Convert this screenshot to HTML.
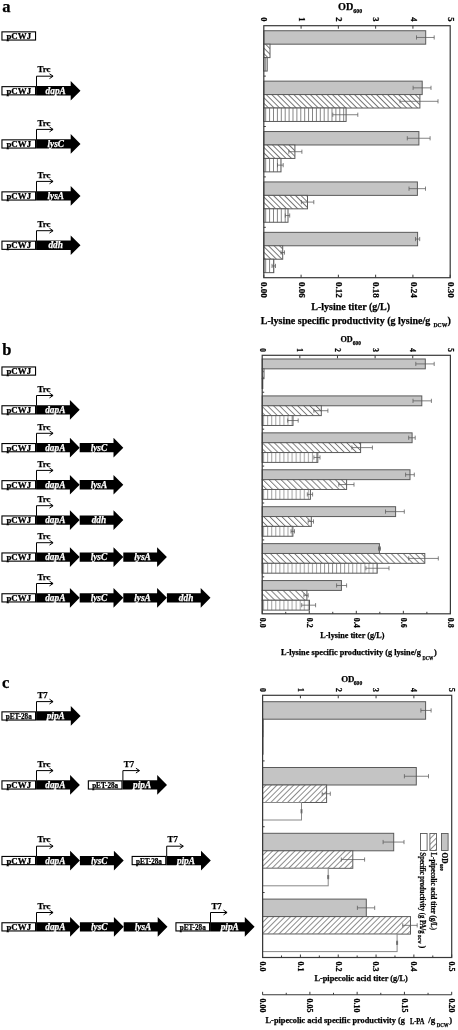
<!DOCTYPE html><html><head><meta charset="utf-8"><style>html,body{margin:0;padding:0;background:#fff;}body{width:458px;height:1030px;position:relative;overflow:hidden;font-family:"Liberation Serif",serif;}</style></head><body><svg width="458" height="1030" viewBox="0 0 458 1030" font-family='"Liberation Serif", serif' style="position:absolute;left:0;top:0;display:block;filter:grayscale(1) blur(0.45px)">
<defs>
<pattern id="hb" patternUnits="userSpaceOnUse" width="3.9" height="4" patternTransform="rotate(-45)"><rect width="3.9" height="4" fill="#fff"/><line x1="0.5" y1="0" x2="0.5" y2="4" stroke="#555" stroke-width="0.8"/></pattern>
<pattern id="hb2" patternUnits="userSpaceOnUse" width="4.27" height="4" patternTransform="rotate(-45)"><rect width="4.27" height="4" fill="#fff"/><line x1="0.5" y1="0" x2="0.5" y2="4" stroke="#555" stroke-width="0.8"/></pattern>
<pattern id="hf" patternUnits="userSpaceOnUse" width="3.95" height="4" patternTransform="rotate(45)"><rect width="3.95" height="4" fill="#fff"/><line x1="0.5" y1="0" x2="0.5" y2="4" stroke="#666" stroke-width="0.75"/></pattern>
<pattern id="vl" patternUnits="userSpaceOnUse" width="3.9" height="10"><rect width="3.9" height="10" fill="#fff"/><line x1="0.5" y1="0" x2="0.5" y2="10" stroke="#666" stroke-width="0.8"/></pattern>
<pattern id="vl2" patternUnits="userSpaceOnUse" width="4.05" height="10"><rect width="4.05" height="10" fill="#fff"/><line x1="0.5" y1="0" x2="0.5" y2="10" stroke="#777" stroke-width="0.8"/></pattern>
</defs>
<rect width="458" height="1030" fill="#fff"/>
<text x="2.30" y="12.20" font-size="16.5" font-weight="bold" font-style="normal" fill="#000" stroke="#000" stroke-width="0.25" text-anchor="start">a</text>
<text x="2.30" y="354.60" font-size="16.5" font-weight="bold" font-style="normal" fill="#000" stroke="#000" stroke-width="0.25" text-anchor="start">b</text>
<text x="2.00" y="687.50" font-size="16.5" font-weight="bold" font-style="normal" fill="#000" stroke="#000" stroke-width="0.25" text-anchor="start">c</text>
<rect x="1.95" y="31.85" width="33.60" height="8.20" fill="#fff" stroke="#000" stroke-width="1.1"/>
<text x="18.75" y="39.00" font-size="8.9" font-weight="bold" font-style="normal" fill="#000" stroke="#000" stroke-width="0.25" text-anchor="middle">pCWJ</text>
<rect x="1.95" y="86.65" width="33.60" height="8.20" fill="#fff" stroke="#000" stroke-width="1.1"/>
<text x="18.75" y="93.80" font-size="8.9" font-weight="bold" font-style="normal" fill="#000" stroke="#000" stroke-width="0.25" text-anchor="middle">pCWJ</text>
<polygon points="36.10,86.1 70.70,86.1 70.70,80.90 80.50,90.75 70.70,100.60 70.70,95.40 36.10,95.40" fill="#000"/>
<text x="55.70" y="93.70" font-size="9.3" font-weight="bold" font-style="italic" fill="#fff" stroke="#fff" stroke-width="0.25" text-anchor="middle">dapA</text>
<path d="M36.50 86.60 V76.20 H53.00" fill="none" stroke="#000" stroke-width="1"/>
<path d="M49.50 73.80 L53.10 76.20 L49.50 78.60" fill="none" stroke="#000" stroke-width="1"/>
<text x="37.40" y="72.40" font-size="8.9" font-weight="bold" font-style="normal" fill="#000" stroke="#000" stroke-width="0.25" text-anchor="start">Trc</text>
<rect x="1.95" y="139.85" width="33.60" height="8.20" fill="#fff" stroke="#000" stroke-width="1.1"/>
<text x="18.75" y="147.00" font-size="8.9" font-weight="bold" font-style="normal" fill="#000" stroke="#000" stroke-width="0.25" text-anchor="middle">pCWJ</text>
<polygon points="36.10,139.3 70.70,139.3 70.70,134.10 80.50,143.95 70.70,153.80 70.70,148.60 36.10,148.60" fill="#000"/>
<text x="55.70" y="146.90" font-size="9.3" font-weight="bold" font-style="italic" fill="#fff" stroke="#fff" stroke-width="0.25" text-anchor="middle">lysC</text>
<path d="M36.50 139.80 V129.40 H53.00" fill="none" stroke="#000" stroke-width="1"/>
<path d="M49.50 127.00 L53.10 129.40 L49.50 131.80" fill="none" stroke="#000" stroke-width="1"/>
<text x="37.40" y="125.60" font-size="8.9" font-weight="bold" font-style="normal" fill="#000" stroke="#000" stroke-width="0.25" text-anchor="start">Trc</text>
<rect x="1.95" y="191.85" width="33.60" height="8.20" fill="#fff" stroke="#000" stroke-width="1.1"/>
<text x="18.75" y="199.00" font-size="8.9" font-weight="bold" font-style="normal" fill="#000" stroke="#000" stroke-width="0.25" text-anchor="middle">pCWJ</text>
<polygon points="36.10,191.3 70.70,191.3 70.70,186.10 80.50,195.95 70.70,205.80 70.70,200.60 36.10,200.60" fill="#000"/>
<text x="55.70" y="198.90" font-size="9.3" font-weight="bold" font-style="italic" fill="#fff" stroke="#fff" stroke-width="0.25" text-anchor="middle">lysA</text>
<path d="M36.50 191.80 V181.40 H53.00" fill="none" stroke="#000" stroke-width="1"/>
<path d="M49.50 179.00 L53.10 181.40 L49.50 183.80" fill="none" stroke="#000" stroke-width="1"/>
<text x="37.40" y="177.60" font-size="8.9" font-weight="bold" font-style="normal" fill="#000" stroke="#000" stroke-width="0.25" text-anchor="start">Trc</text>
<rect x="1.95" y="241.15" width="33.60" height="8.20" fill="#fff" stroke="#000" stroke-width="1.1"/>
<text x="18.75" y="248.30" font-size="8.9" font-weight="bold" font-style="normal" fill="#000" stroke="#000" stroke-width="0.25" text-anchor="middle">pCWJ</text>
<polygon points="36.10,240.6 70.70,240.6 70.70,235.40 80.50,245.25 70.70,255.10 70.70,249.90 36.10,249.90" fill="#000"/>
<text x="55.70" y="248.20" font-size="9.3" font-weight="bold" font-style="italic" fill="#fff" stroke="#fff" stroke-width="0.25" text-anchor="middle">ddh</text>
<path d="M36.50 241.10 V230.70 H53.00" fill="none" stroke="#000" stroke-width="1"/>
<path d="M49.50 228.30 L53.10 230.70 L49.50 233.10" fill="none" stroke="#000" stroke-width="1"/>
<text x="37.40" y="226.90" font-size="8.9" font-weight="bold" font-style="normal" fill="#000" stroke="#000" stroke-width="0.25" text-anchor="start">Trc</text>
<rect x="1.95" y="366.95" width="33.60" height="8.20" fill="#fff" stroke="#000" stroke-width="1.1"/>
<text x="18.75" y="374.10" font-size="8.9" font-weight="bold" font-style="normal" fill="#000" stroke="#000" stroke-width="0.25" text-anchor="middle">pCWJ</text>
<rect x="1.95" y="405.75" width="33.60" height="8.20" fill="#fff" stroke="#000" stroke-width="1.1"/>
<text x="18.75" y="412.90" font-size="8.9" font-weight="bold" font-style="normal" fill="#000" stroke="#000" stroke-width="0.25" text-anchor="middle">pCWJ</text>
<polygon points="36.10,405.2 69.90,405.2 69.90,400.00 79.70,409.85 69.90,419.70 69.90,414.50 36.10,414.50" fill="#000"/>
<text x="55.30" y="412.80" font-size="9.3" font-weight="bold" font-style="italic" fill="#fff" stroke="#fff" stroke-width="0.25" text-anchor="middle">dapA</text>
<path d="M36.50 405.70 V395.50 H53.00" fill="none" stroke="#000" stroke-width="1"/>
<path d="M49.50 393.10 L53.10 395.50 L49.50 397.90" fill="none" stroke="#000" stroke-width="1"/>
<text x="37.40" y="391.70" font-size="8.9" font-weight="bold" font-style="normal" fill="#000" stroke="#000" stroke-width="0.25" text-anchor="start">Trc</text>
<rect x="1.95" y="443.55" width="33.60" height="8.20" fill="#fff" stroke="#000" stroke-width="1.1"/>
<text x="18.75" y="450.70" font-size="8.9" font-weight="bold" font-style="normal" fill="#000" stroke="#000" stroke-width="0.25" text-anchor="middle">pCWJ</text>
<polygon points="36.10,443.0 69.90,443.0 69.90,437.80 79.70,447.65 69.90,457.50 69.90,452.30 36.10,452.30" fill="#000"/>
<text x="55.30" y="450.60" font-size="9.3" font-weight="bold" font-style="italic" fill="#fff" stroke="#fff" stroke-width="0.25" text-anchor="middle">dapA</text>
<polygon points="79.70,443.0 113.50,443.0 113.50,437.80 123.30,447.65 113.50,457.50 113.50,452.30 79.70,452.30" fill="#000"/>
<text x="98.90" y="450.60" font-size="9.3" font-weight="bold" font-style="italic" fill="#fff" stroke="#fff" stroke-width="0.25" text-anchor="middle">lysC</text>
<path d="M36.50 443.50 V433.30 H53.00" fill="none" stroke="#000" stroke-width="1"/>
<path d="M49.50 430.90 L53.10 433.30 L49.50 435.70" fill="none" stroke="#000" stroke-width="1"/>
<text x="37.40" y="429.50" font-size="8.9" font-weight="bold" font-style="normal" fill="#000" stroke="#000" stroke-width="0.25" text-anchor="start">Trc</text>
<rect x="1.95" y="480.65" width="33.60" height="8.20" fill="#fff" stroke="#000" stroke-width="1.1"/>
<text x="18.75" y="487.80" font-size="8.9" font-weight="bold" font-style="normal" fill="#000" stroke="#000" stroke-width="0.25" text-anchor="middle">pCWJ</text>
<polygon points="36.10,480.1 69.90,480.1 69.90,474.90 79.70,484.75 69.90,494.60 69.90,489.40 36.10,489.40" fill="#000"/>
<text x="55.30" y="487.70" font-size="9.3" font-weight="bold" font-style="italic" fill="#fff" stroke="#fff" stroke-width="0.25" text-anchor="middle">dapA</text>
<polygon points="79.70,480.1 113.50,480.1 113.50,474.90 123.30,484.75 113.50,494.60 113.50,489.40 79.70,489.40" fill="#000"/>
<text x="98.90" y="487.70" font-size="9.3" font-weight="bold" font-style="italic" fill="#fff" stroke="#fff" stroke-width="0.25" text-anchor="middle">lysA</text>
<path d="M36.50 480.60 V470.40 H53.00" fill="none" stroke="#000" stroke-width="1"/>
<path d="M49.50 468.00 L53.10 470.40 L49.50 472.80" fill="none" stroke="#000" stroke-width="1"/>
<text x="37.40" y="466.60" font-size="8.9" font-weight="bold" font-style="normal" fill="#000" stroke="#000" stroke-width="0.25" text-anchor="start">Trc</text>
<rect x="1.95" y="515.95" width="33.60" height="8.20" fill="#fff" stroke="#000" stroke-width="1.1"/>
<text x="18.75" y="523.10" font-size="8.9" font-weight="bold" font-style="normal" fill="#000" stroke="#000" stroke-width="0.25" text-anchor="middle">pCWJ</text>
<polygon points="36.10,515.4 69.90,515.4 69.90,510.20 79.70,520.05 69.90,529.90 69.90,524.70 36.10,524.70" fill="#000"/>
<text x="55.30" y="523.00" font-size="9.3" font-weight="bold" font-style="italic" fill="#fff" stroke="#fff" stroke-width="0.25" text-anchor="middle">dapA</text>
<polygon points="79.70,515.4 113.50,515.4 113.50,510.20 123.30,520.05 113.50,529.90 113.50,524.70 79.70,524.70" fill="#000"/>
<text x="98.90" y="523.00" font-size="9.3" font-weight="bold" font-style="italic" fill="#fff" stroke="#fff" stroke-width="0.25" text-anchor="middle">ddh</text>
<path d="M36.50 515.90 V505.70 H53.00" fill="none" stroke="#000" stroke-width="1"/>
<path d="M49.50 503.30 L53.10 505.70 L49.50 508.10" fill="none" stroke="#000" stroke-width="1"/>
<text x="37.40" y="501.90" font-size="8.9" font-weight="bold" font-style="normal" fill="#000" stroke="#000" stroke-width="0.25" text-anchor="start">Trc</text>
<rect x="1.95" y="552.95" width="33.60" height="8.20" fill="#fff" stroke="#000" stroke-width="1.1"/>
<text x="18.75" y="560.10" font-size="8.9" font-weight="bold" font-style="normal" fill="#000" stroke="#000" stroke-width="0.25" text-anchor="middle">pCWJ</text>
<polygon points="36.10,552.4 69.90,552.4 69.90,547.20 79.70,557.05 69.90,566.90 69.90,561.70 36.10,561.70" fill="#000"/>
<text x="55.30" y="560.00" font-size="9.3" font-weight="bold" font-style="italic" fill="#fff" stroke="#fff" stroke-width="0.25" text-anchor="middle">dapA</text>
<polygon points="79.70,552.4 113.50,552.4 113.50,547.20 123.30,557.05 113.50,566.90 113.50,561.70 79.70,561.70" fill="#000"/>
<text x="98.90" y="560.00" font-size="9.3" font-weight="bold" font-style="italic" fill="#fff" stroke="#fff" stroke-width="0.25" text-anchor="middle">lysC</text>
<polygon points="123.30,552.4 157.10,552.4 157.10,547.20 166.90,557.05 157.10,566.90 157.10,561.70 123.30,561.70" fill="#000"/>
<text x="142.50" y="560.00" font-size="9.3" font-weight="bold" font-style="italic" fill="#fff" stroke="#fff" stroke-width="0.25" text-anchor="middle">lysA</text>
<path d="M36.50 552.90 V542.70 H53.00" fill="none" stroke="#000" stroke-width="1"/>
<path d="M49.50 540.30 L53.10 542.70 L49.50 545.10" fill="none" stroke="#000" stroke-width="1"/>
<text x="37.40" y="538.90" font-size="8.9" font-weight="bold" font-style="normal" fill="#000" stroke="#000" stroke-width="0.25" text-anchor="start">Trc</text>
<rect x="1.95" y="593.75" width="33.60" height="8.20" fill="#fff" stroke="#000" stroke-width="1.1"/>
<text x="18.75" y="600.90" font-size="8.9" font-weight="bold" font-style="normal" fill="#000" stroke="#000" stroke-width="0.25" text-anchor="middle">pCWJ</text>
<polygon points="36.10,593.2 69.90,593.2 69.90,588.00 79.70,597.85 69.90,607.70 69.90,602.50 36.10,602.50" fill="#000"/>
<text x="55.30" y="600.80" font-size="9.3" font-weight="bold" font-style="italic" fill="#fff" stroke="#fff" stroke-width="0.25" text-anchor="middle">dapA</text>
<polygon points="79.70,593.2 113.50,593.2 113.50,588.00 123.30,597.85 113.50,607.70 113.50,602.50 79.70,602.50" fill="#000"/>
<text x="98.90" y="600.80" font-size="9.3" font-weight="bold" font-style="italic" fill="#fff" stroke="#fff" stroke-width="0.25" text-anchor="middle">lysC</text>
<polygon points="123.30,593.2 157.10,593.2 157.10,588.00 166.90,597.85 157.10,607.70 157.10,602.50 123.30,602.50" fill="#000"/>
<text x="142.50" y="600.80" font-size="9.3" font-weight="bold" font-style="italic" fill="#fff" stroke="#fff" stroke-width="0.25" text-anchor="middle">lysA</text>
<polygon points="166.90,593.2 200.70,593.2 200.70,588.00 210.50,597.85 200.70,607.70 200.70,602.50 166.90,602.50" fill="#000"/>
<text x="186.10" y="600.80" font-size="9.3" font-weight="bold" font-style="italic" fill="#fff" stroke="#fff" stroke-width="0.25" text-anchor="middle">ddh</text>
<path d="M36.50 593.70 V583.50 H53.00" fill="none" stroke="#000" stroke-width="1"/>
<path d="M49.50 581.10 L53.10 583.50 L49.50 585.90" fill="none" stroke="#000" stroke-width="1"/>
<text x="37.40" y="579.70" font-size="8.9" font-weight="bold" font-style="normal" fill="#000" stroke="#000" stroke-width="0.25" text-anchor="start">Trc</text>
<rect x="1.95" y="711.85" width="33.60" height="8.20" fill="#fff" stroke="#000" stroke-width="1.1"/>
<text x="5.75" y="719.00" font-size="7.3" font-weight="bold" font-style="normal" fill="#000" stroke="#000" stroke-width="0.25" text-anchor="start" textLength="26.00" lengthAdjust="spacingAndGlyphs">pET-28a</text>
<polygon points="36.10,711.3 70.80,711.3 70.80,706.10 80.60,715.95 70.80,725.80 70.80,720.60 36.10,720.60" fill="#000"/>
<text x="55.75" y="718.90" font-size="9.3" font-weight="bold" font-style="italic" fill="#fff" stroke="#fff" stroke-width="0.25" text-anchor="middle">pipA</text>
<path d="M36.50 711.80 V701.60 H53.00" fill="none" stroke="#000" stroke-width="1"/>
<path d="M49.50 699.20 L53.10 701.60 L49.50 704.00" fill="none" stroke="#000" stroke-width="1"/>
<text x="37.40" y="697.80" font-size="8.9" font-weight="bold" font-style="normal" fill="#000" stroke="#000" stroke-width="0.25" text-anchor="start">T7</text>
<rect x="1.95" y="780.85" width="33.60" height="8.20" fill="#fff" stroke="#000" stroke-width="1.1"/>
<text x="18.75" y="788.00" font-size="8.9" font-weight="bold" font-style="normal" fill="#000" stroke="#000" stroke-width="0.25" text-anchor="middle">pCWJ</text>
<polygon points="36.10,780.3 70.10,780.3 70.10,775.10 79.90,784.95 70.10,794.80 70.10,789.60 36.10,789.60" fill="#000"/>
<text x="55.40" y="787.90" font-size="9.3" font-weight="bold" font-style="italic" fill="#fff" stroke="#fff" stroke-width="0.25" text-anchor="middle">dapA</text>
<path d="M36.50 780.80 V770.60 H53.00" fill="none" stroke="#000" stroke-width="1"/>
<path d="M49.50 768.20 L53.10 770.60 L49.50 773.00" fill="none" stroke="#000" stroke-width="1"/>
<text x="37.40" y="766.80" font-size="8.9" font-weight="bold" font-style="normal" fill="#000" stroke="#000" stroke-width="0.25" text-anchor="start">Trc</text>
<rect x="88.35" y="780.85" width="33.60" height="8.20" fill="#fff" stroke="#000" stroke-width="1.1"/>
<text x="92.15" y="788.00" font-size="7.3" font-weight="bold" font-style="normal" fill="#000" stroke="#000" stroke-width="0.25" text-anchor="start" textLength="26.00" lengthAdjust="spacingAndGlyphs">pET-28a</text>
<polygon points="122.50,780.3 157.20,780.3 157.20,775.10 167.00,784.95 157.20,794.80 157.20,789.60 122.50,789.60" fill="#000"/>
<text x="142.15" y="787.90" font-size="9.3" font-weight="bold" font-style="italic" fill="#fff" stroke="#fff" stroke-width="0.25" text-anchor="middle">pipA</text>
<path d="M122.90 780.80 V770.60 H139.40" fill="none" stroke="#000" stroke-width="1"/>
<path d="M135.90 768.20 L139.50 770.60 L135.90 773.00" fill="none" stroke="#000" stroke-width="1"/>
<text x="123.80" y="766.80" font-size="8.9" font-weight="bold" font-style="normal" fill="#000" stroke="#000" stroke-width="0.25" text-anchor="start">T7</text>
<rect x="1.95" y="856.45" width="33.60" height="8.20" fill="#fff" stroke="#000" stroke-width="1.1"/>
<text x="18.75" y="863.60" font-size="8.9" font-weight="bold" font-style="normal" fill="#000" stroke="#000" stroke-width="0.25" text-anchor="middle">pCWJ</text>
<polygon points="36.10,855.9 70.10,855.9 70.10,850.70 79.90,860.55 70.10,870.40 70.10,865.20 36.10,865.20" fill="#000"/>
<text x="55.40" y="863.50" font-size="9.3" font-weight="bold" font-style="italic" fill="#fff" stroke="#fff" stroke-width="0.25" text-anchor="middle">dapA</text>
<polygon points="79.90,855.9 113.90,855.9 113.90,850.70 123.70,860.55 113.90,870.40 113.90,865.20 79.90,865.20" fill="#000"/>
<text x="99.20" y="863.50" font-size="9.3" font-weight="bold" font-style="italic" fill="#fff" stroke="#fff" stroke-width="0.25" text-anchor="middle">lysC</text>
<path d="M36.50 856.40 V846.20 H53.00" fill="none" stroke="#000" stroke-width="1"/>
<path d="M49.50 843.80 L53.10 846.20 L49.50 848.60" fill="none" stroke="#000" stroke-width="1"/>
<text x="37.40" y="842.40" font-size="8.9" font-weight="bold" font-style="normal" fill="#000" stroke="#000" stroke-width="0.25" text-anchor="start">Trc</text>
<rect x="132.15" y="856.45" width="33.60" height="8.20" fill="#fff" stroke="#000" stroke-width="1.1"/>
<text x="135.95" y="863.60" font-size="7.3" font-weight="bold" font-style="normal" fill="#000" stroke="#000" stroke-width="0.25" text-anchor="start" textLength="26.00" lengthAdjust="spacingAndGlyphs">pET-28a</text>
<polygon points="166.30,855.9 201.00,855.9 201.00,850.70 210.80,860.55 201.00,870.40 201.00,865.20 166.30,865.20" fill="#000"/>
<text x="185.95" y="863.50" font-size="9.3" font-weight="bold" font-style="italic" fill="#fff" stroke="#fff" stroke-width="0.25" text-anchor="middle">pipA</text>
<path d="M166.70 856.40 V846.20 H183.20" fill="none" stroke="#000" stroke-width="1"/>
<path d="M179.70 843.80 L183.30 846.20 L179.70 848.60" fill="none" stroke="#000" stroke-width="1"/>
<text x="167.60" y="842.40" font-size="8.9" font-weight="bold" font-style="normal" fill="#000" stroke="#000" stroke-width="0.25" text-anchor="start">T7</text>
<rect x="1.95" y="922.75" width="33.60" height="8.20" fill="#fff" stroke="#000" stroke-width="1.1"/>
<text x="18.75" y="929.90" font-size="8.9" font-weight="bold" font-style="normal" fill="#000" stroke="#000" stroke-width="0.25" text-anchor="middle">pCWJ</text>
<polygon points="36.10,922.2 70.10,922.2 70.10,917.00 79.90,926.85 70.10,936.70 70.10,931.50 36.10,931.50" fill="#000"/>
<text x="55.40" y="929.80" font-size="9.3" font-weight="bold" font-style="italic" fill="#fff" stroke="#fff" stroke-width="0.25" text-anchor="middle">dapA</text>
<polygon points="79.90,922.2 113.90,922.2 113.90,917.00 123.70,926.85 113.90,936.70 113.90,931.50 79.90,931.50" fill="#000"/>
<text x="99.20" y="929.80" font-size="9.3" font-weight="bold" font-style="italic" fill="#fff" stroke="#fff" stroke-width="0.25" text-anchor="middle">lysC</text>
<polygon points="123.70,922.2 157.70,922.2 157.70,917.00 167.50,926.85 157.70,936.70 157.70,931.50 123.70,931.50" fill="#000"/>
<text x="143.00" y="929.80" font-size="9.3" font-weight="bold" font-style="italic" fill="#fff" stroke="#fff" stroke-width="0.25" text-anchor="middle">lysA</text>
<path d="M36.50 922.70 V912.50 H53.00" fill="none" stroke="#000" stroke-width="1"/>
<path d="M49.50 910.10 L53.10 912.50 L49.50 914.90" fill="none" stroke="#000" stroke-width="1"/>
<text x="37.40" y="908.70" font-size="8.9" font-weight="bold" font-style="normal" fill="#000" stroke="#000" stroke-width="0.25" text-anchor="start">Trc</text>
<rect x="175.95" y="922.75" width="33.60" height="8.20" fill="#fff" stroke="#000" stroke-width="1.1"/>
<text x="179.75" y="929.90" font-size="7.3" font-weight="bold" font-style="normal" fill="#000" stroke="#000" stroke-width="0.25" text-anchor="start" textLength="26.00" lengthAdjust="spacingAndGlyphs">pET-28a</text>
<polygon points="210.10,922.2 244.80,922.2 244.80,917.00 254.60,926.85 244.80,936.70 244.80,931.50 210.10,931.50" fill="#000"/>
<text x="229.75" y="929.80" font-size="9.3" font-weight="bold" font-style="italic" fill="#fff" stroke="#fff" stroke-width="0.25" text-anchor="middle">pipA</text>
<path d="M210.50 922.70 V912.50 H227.00" fill="none" stroke="#000" stroke-width="1"/>
<path d="M223.50 910.10 L227.10 912.50 L223.50 914.90" fill="none" stroke="#000" stroke-width="1"/>
<text x="211.40" y="908.70" font-size="8.9" font-weight="bold" font-style="normal" fill="#000" stroke="#000" stroke-width="0.25" text-anchor="start">T7</text>
<rect x="263.8" y="30.74" width="161.90" height="13.44" fill="#c4c4c4" stroke="#5a5a5a" stroke-width="1"/>
<path d="M416.5 37.46 H434.2 M416.5 35.36 V39.56 M434.2 35.36 V39.56" stroke="#5a5a5a" stroke-width="0.75" fill="none"/>
<rect x="263.8" y="44.18" width="6.20" height="13.44" fill="url(#hb)" stroke="#5a5a5a" stroke-width="1"/>
<rect x="263.8" y="57.62" width="3.40" height="13.44" fill="url(#vl)" stroke="#5a5a5a" stroke-width="1"/>
<rect x="263.8" y="81.14" width="158.40" height="13.44" fill="#c4c4c4" stroke="#5a5a5a" stroke-width="1"/>
<path d="M413.1 87.86 H431.0 M413.1 85.76 V89.96 M431.0 85.76 V89.96" stroke="#5a5a5a" stroke-width="0.75" fill="none"/>
<rect x="263.8" y="94.58" width="156.10" height="13.44" fill="url(#hb)" stroke="#5a5a5a" stroke-width="1"/>
<path d="M400.0 101.30 H438.0 M400.0 99.20 V103.40 M438.0 99.20 V103.40" stroke="#5a5a5a" stroke-width="0.75" fill="none"/>
<rect x="263.8" y="108.02" width="82.30" height="13.44" fill="url(#vl)" stroke="#5a5a5a" stroke-width="1"/>
<path d="M332.8 114.74 H357.8 M332.8 112.64 V116.84 M357.8 112.64 V116.84" stroke="#5a5a5a" stroke-width="0.75" fill="none"/>
<line x1="263.8" y1="76.10" x2="265.8" y2="76.10" stroke="#383838" stroke-width="1"/>
<rect x="263.8" y="131.54" width="155.10" height="13.44" fill="#c4c4c4" stroke="#5a5a5a" stroke-width="1"/>
<path d="M407.3 138.26 H430.1 M407.3 136.16 V140.36 M430.1 136.16 V140.36" stroke="#5a5a5a" stroke-width="0.75" fill="none"/>
<rect x="263.8" y="144.98" width="31.10" height="13.44" fill="url(#hb)" stroke="#5a5a5a" stroke-width="1"/>
<path d="M288.8 151.70 H301.9 M288.8 149.60 V153.80 M301.9 149.60 V153.80" stroke="#5a5a5a" stroke-width="0.75" fill="none"/>
<rect x="263.8" y="158.42" width="17.20" height="13.44" fill="url(#vl)" stroke="#5a5a5a" stroke-width="1"/>
<path d="M277.5 165.14 H283.2 M277.5 163.04 V167.24 M283.2 163.04 V167.24" stroke="#5a5a5a" stroke-width="0.75" fill="none"/>
<line x1="263.8" y1="126.50" x2="265.8" y2="126.50" stroke="#383838" stroke-width="1"/>
<rect x="263.8" y="181.94" width="153.60" height="13.44" fill="#c4c4c4" stroke="#5a5a5a" stroke-width="1"/>
<path d="M409.0 188.66 H425.5 M409.0 186.56 V190.76 M425.5 186.56 V190.76" stroke="#5a5a5a" stroke-width="0.75" fill="none"/>
<rect x="263.8" y="195.38" width="43.70" height="13.44" fill="url(#hb)" stroke="#5a5a5a" stroke-width="1"/>
<path d="M301.4 202.10 H313.8 M301.4 200.00 V204.20 M313.8 200.00 V204.20" stroke="#5a5a5a" stroke-width="0.75" fill="none"/>
<rect x="263.8" y="208.82" width="24.20" height="13.44" fill="url(#vl)" stroke="#5a5a5a" stroke-width="1"/>
<path d="M285.3 215.54 H289.7 M285.3 213.44 V217.64 M289.7 213.44 V217.64" stroke="#5a5a5a" stroke-width="0.75" fill="none"/>
<line x1="263.8" y1="176.90" x2="265.8" y2="176.90" stroke="#383838" stroke-width="1"/>
<rect x="263.8" y="232.34" width="153.80" height="13.44" fill="#c4c4c4" stroke="#5a5a5a" stroke-width="1"/>
<path d="M415.5 239.06 H419.7 M415.5 236.96 V241.16 M419.7 236.96 V241.16" stroke="#5a5a5a" stroke-width="0.75" fill="none"/>
<rect x="263.8" y="245.78" width="18.90" height="13.44" fill="url(#hb)" stroke="#5a5a5a" stroke-width="1"/>
<path d="M281.0 252.50 H284.5 M281.0 250.40 V254.60 M284.5 250.40 V254.60" stroke="#5a5a5a" stroke-width="0.75" fill="none"/>
<rect x="263.8" y="259.22" width="10.00" height="13.44" fill="url(#vl)" stroke="#5a5a5a" stroke-width="1"/>
<path d="M272.0 265.94 H275.5 M272.0 263.84 V268.04 M275.5 263.84 V268.04" stroke="#5a5a5a" stroke-width="0.75" fill="none"/>
<line x1="263.8" y1="227.30" x2="265.8" y2="227.30" stroke="#383838" stroke-width="1"/>
<rect x="263.8" y="25.7" width="186.39999999999998" height="252.0" fill="none" stroke="#383838" stroke-width="1.2"/>
<line x1="301.08" y1="25.7" x2="301.08" y2="28.7" stroke="#383838" stroke-width="1"/>
<line x1="338.36" y1="25.7" x2="338.36" y2="28.7" stroke="#383838" stroke-width="1"/>
<line x1="375.64" y1="25.7" x2="375.64" y2="28.7" stroke="#383838" stroke-width="1"/>
<line x1="412.92" y1="25.7" x2="412.92" y2="28.7" stroke="#383838" stroke-width="1"/>
<text x="261.41" y="17.20" font-size="8.5" font-weight="bold" font-style="normal" fill="#000" stroke="#000" stroke-width="0.25" text-anchor="start" transform="rotate(90 261.41 17.20)">0</text>
<text x="298.69" y="17.20" font-size="8.5" font-weight="bold" font-style="normal" fill="#000" stroke="#000" stroke-width="0.25" text-anchor="start" transform="rotate(90 298.69 17.20)">1</text>
<text x="335.97" y="17.20" font-size="8.5" font-weight="bold" font-style="normal" fill="#000" stroke="#000" stroke-width="0.25" text-anchor="start" transform="rotate(90 335.97 17.20)">2</text>
<text x="373.25" y="17.20" font-size="8.5" font-weight="bold" font-style="normal" fill="#000" stroke="#000" stroke-width="0.25" text-anchor="start" transform="rotate(90 373.25 17.20)">3</text>
<text x="410.53" y="17.20" font-size="8.5" font-weight="bold" font-style="normal" fill="#000" stroke="#000" stroke-width="0.25" text-anchor="start" transform="rotate(90 410.53 17.20)">4</text>
<text x="447.81" y="17.20" font-size="8.5" font-weight="bold" font-style="normal" fill="#000" stroke="#000" stroke-width="0.25" text-anchor="start" transform="rotate(90 447.81 17.20)">5</text>
<line x1="263.80" y1="277.7" x2="263.80" y2="274.7" stroke="#383838" stroke-width="1"/>
<text x="261.44" y="281.90" font-size="9" font-weight="bold" font-style="normal" fill="#000" stroke="#000" stroke-width="0.25" text-anchor="start" transform="rotate(90 261.44 281.90)">0.00</text>
<line x1="301.08" y1="277.7" x2="301.08" y2="274.7" stroke="#383838" stroke-width="1"/>
<text x="298.72" y="281.90" font-size="9" font-weight="bold" font-style="normal" fill="#000" stroke="#000" stroke-width="0.25" text-anchor="start" transform="rotate(90 298.72 281.90)">0.06</text>
<line x1="338.36" y1="277.7" x2="338.36" y2="274.7" stroke="#383838" stroke-width="1"/>
<text x="336.00" y="281.90" font-size="9" font-weight="bold" font-style="normal" fill="#000" stroke="#000" stroke-width="0.25" text-anchor="start" transform="rotate(90 336.00 281.90)">0.12</text>
<line x1="375.64" y1="277.7" x2="375.64" y2="274.7" stroke="#383838" stroke-width="1"/>
<text x="373.28" y="281.90" font-size="9" font-weight="bold" font-style="normal" fill="#000" stroke="#000" stroke-width="0.25" text-anchor="start" transform="rotate(90 373.28 281.90)">0.18</text>
<line x1="412.92" y1="277.7" x2="412.92" y2="274.7" stroke="#383838" stroke-width="1"/>
<text x="410.56" y="281.90" font-size="9" font-weight="bold" font-style="normal" fill="#000" stroke="#000" stroke-width="0.25" text-anchor="start" transform="rotate(90 410.56 281.90)">0.24</text>
<line x1="450.20" y1="277.7" x2="450.20" y2="274.7" stroke="#383838" stroke-width="1"/>
<text x="447.84" y="281.90" font-size="9" font-weight="bold" font-style="normal" fill="#000" stroke="#000" stroke-width="0.25" text-anchor="start" transform="rotate(90 447.84 281.90)">0.30</text>
<text x="338.00" y="9.80" font-size="10.2" font-weight="bold" font-style="normal" fill="#000" stroke="#000" stroke-width="0.25" text-anchor="start">OD</text>
<text x="353.30" y="13.20" font-size="5.9" font-weight="bold" font-style="normal" fill="#000" stroke="#000" stroke-width="0.25" text-anchor="start">600</text>
<text x="311.20" y="309.50" font-size="10.3" font-weight="bold" font-style="normal" fill="#000" stroke="#000" stroke-width="0.25" text-anchor="start" textLength="78.90" lengthAdjust="spacingAndGlyphs">L-lysine titer (g/L)</text>
<text x="260.80" y="324.00" font-size="10.2" font-weight="bold" font-style="normal" fill="#000" stroke="#000" stroke-width="0.25" text-anchor="start" textLength="169.50" lengthAdjust="spacingAndGlyphs">L-lysine specific productivity (g lysine/g</text>
<text x="433.50" y="327.30" font-size="6.0" font-weight="bold" font-style="normal" fill="#000" stroke="#000" stroke-width="0.25" text-anchor="start" textLength="13.80" lengthAdjust="spacingAndGlyphs">DCW</text>
<text x="447.60" y="324.00" font-size="10.2" font-weight="bold" font-style="normal" fill="#000" stroke="#000" stroke-width="0.25" text-anchor="start">)</text>
<rect x="262.2" y="358.99" width="163.10" height="9.85" fill="#c4c4c4" stroke="#5a5a5a" stroke-width="1"/>
<path d="M415.8 363.92 H434.2 M415.8 361.82 V366.02 M434.2 361.82 V366.02" stroke="#5a5a5a" stroke-width="0.75" fill="none"/>
<rect x="262.2" y="368.84" width="1.80" height="9.85" fill="url(#hb2)" stroke="#5a5a5a" stroke-width="1"/>
<rect x="262.2" y="378.69" width="0.60" height="9.85" fill="url(#vl2)" stroke="#5a5a5a" stroke-width="1"/>
<rect x="262.2" y="395.92" width="159.60" height="9.85" fill="#c4c4c4" stroke="#5a5a5a" stroke-width="1"/>
<path d="M413.0 400.85 H431.4 M413.0 398.75 V402.95 M431.4 398.75 V402.95" stroke="#5a5a5a" stroke-width="0.75" fill="none"/>
<rect x="262.2" y="405.77" width="59.10" height="9.85" fill="url(#hb2)" stroke="#5a5a5a" stroke-width="1"/>
<path d="M313.9 410.69 H327.9 M313.9 408.59 V412.79 M327.9 408.59 V412.79" stroke="#5a5a5a" stroke-width="0.75" fill="none"/>
<rect x="262.2" y="415.62" width="30.80" height="9.85" fill="url(#vl2)" stroke="#5a5a5a" stroke-width="1"/>
<path d="M287.7 420.54 H298.2 M287.7 418.44 V422.64 M298.2 418.44 V422.64" stroke="#5a5a5a" stroke-width="0.75" fill="none"/>
<line x1="262.2" y1="392.23" x2="264.2" y2="392.23" stroke="#383838" stroke-width="1"/>
<rect x="262.2" y="432.85" width="149.90" height="9.85" fill="#c4c4c4" stroke="#5a5a5a" stroke-width="1"/>
<path d="M408.7 437.77 H415.2 M408.7 435.67 V439.87 M415.2 435.67 V439.87" stroke="#5a5a5a" stroke-width="0.75" fill="none"/>
<rect x="262.2" y="442.70" width="98.40" height="9.85" fill="url(#hb2)" stroke="#5a5a5a" stroke-width="1"/>
<path d="M351.9 447.62 H372.4 M351.9 445.52 V449.72 M372.4 445.52 V449.72" stroke="#5a5a5a" stroke-width="0.75" fill="none"/>
<rect x="262.2" y="452.55" width="55.60" height="9.85" fill="url(#vl2)" stroke="#5a5a5a" stroke-width="1"/>
<path d="M313.9 457.47 H320.0 M313.9 455.37 V459.57 M320.0 455.37 V459.57" stroke="#5a5a5a" stroke-width="0.75" fill="none"/>
<line x1="262.2" y1="429.16" x2="264.2" y2="429.16" stroke="#383838" stroke-width="1"/>
<rect x="262.2" y="469.78" width="147.80" height="9.85" fill="#c4c4c4" stroke="#5a5a5a" stroke-width="1"/>
<path d="M405.6 474.70 H414.3 M405.6 472.60 V476.80 M414.3 472.60 V476.80" stroke="#5a5a5a" stroke-width="0.75" fill="none"/>
<rect x="262.2" y="479.63" width="84.40" height="9.85" fill="url(#hb2)" stroke="#5a5a5a" stroke-width="1"/>
<path d="M338.8 484.55 H354.0 M338.8 482.45 V486.65 M354.0 482.45 V486.65" stroke="#5a5a5a" stroke-width="0.75" fill="none"/>
<rect x="262.2" y="489.47" width="48.20" height="9.85" fill="url(#vl2)" stroke="#5a5a5a" stroke-width="1"/>
<path d="M307.3 494.40 H312.6 M307.3 492.30 V496.50 M312.6 492.30 V496.50" stroke="#5a5a5a" stroke-width="0.75" fill="none"/>
<line x1="262.2" y1="466.09" x2="264.2" y2="466.09" stroke="#383838" stroke-width="1"/>
<rect x="262.2" y="506.71" width="133.40" height="9.85" fill="#c4c4c4" stroke="#5a5a5a" stroke-width="1"/>
<path d="M385.5 511.63 H404.3 M385.5 509.53 V513.73 M404.3 509.53 V513.73" stroke="#5a5a5a" stroke-width="0.75" fill="none"/>
<rect x="262.2" y="516.55" width="49.10" height="9.85" fill="url(#hb2)" stroke="#5a5a5a" stroke-width="1"/>
<path d="M308.2 521.48 H313.5 M308.2 519.38 V523.58 M313.5 519.38 V523.58" stroke="#5a5a5a" stroke-width="0.75" fill="none"/>
<rect x="262.2" y="526.40" width="30.70" height="9.85" fill="url(#vl2)" stroke="#5a5a5a" stroke-width="1"/>
<path d="M291.0 531.33 H294.5 M291.0 529.23 V533.43 M294.5 529.23 V533.43" stroke="#5a5a5a" stroke-width="0.75" fill="none"/>
<line x1="262.2" y1="503.01" x2="264.2" y2="503.01" stroke="#383838" stroke-width="1"/>
<rect x="262.2" y="543.64" width="117.20" height="9.85" fill="#c4c4c4" stroke="#5a5a5a" stroke-width="1"/>
<path d="M378.5 548.56 H380.5 M378.5 546.46 V550.66 M380.5 546.46 V550.66" stroke="#5a5a5a" stroke-width="0.75" fill="none"/>
<rect x="262.2" y="553.48" width="162.60" height="9.85" fill="url(#hb2)" stroke="#5a5a5a" stroke-width="1"/>
<path d="M408.7 558.41 H438.3 M408.7 556.31 V560.51 M438.3 556.31 V560.51" stroke="#5a5a5a" stroke-width="0.75" fill="none"/>
<rect x="262.2" y="563.33" width="115.00" height="9.85" fill="url(#vl2)" stroke="#5a5a5a" stroke-width="1"/>
<path d="M365.9 568.25 H389.0 M365.9 566.15 V570.35 M389.0 566.15 V570.35" stroke="#5a5a5a" stroke-width="0.75" fill="none"/>
<line x1="262.2" y1="539.94" x2="264.2" y2="539.94" stroke="#383838" stroke-width="1"/>
<rect x="262.2" y="580.56" width="79.20" height="9.85" fill="#c4c4c4" stroke="#5a5a5a" stroke-width="1"/>
<path d="M336.6 585.49 H346.6 M336.6 583.39 V587.59 M346.6 583.39 V587.59" stroke="#5a5a5a" stroke-width="0.75" fill="none"/>
<rect x="262.2" y="590.41" width="44.70" height="9.85" fill="url(#hb2)" stroke="#5a5a5a" stroke-width="1"/>
<path d="M303.9 595.34 H308.2 M303.9 593.24 V597.44 M308.2 593.24 V597.44" stroke="#5a5a5a" stroke-width="0.75" fill="none"/>
<rect x="262.2" y="600.26" width="47.30" height="9.85" fill="url(#vl2)" stroke="#5a5a5a" stroke-width="1"/>
<path d="M301.7 605.18 H315.6 M301.7 603.08 V607.28 M315.6 603.08 V607.28" stroke="#5a5a5a" stroke-width="0.75" fill="none"/>
<line x1="262.2" y1="576.87" x2="264.2" y2="576.87" stroke="#383838" stroke-width="1"/>
<rect x="262.2" y="355.3" width="188.2" height="258.49999999999994" fill="none" stroke="#383838" stroke-width="1.2"/>
<line x1="299.84" y1="355.3" x2="299.84" y2="358.3" stroke="#383838" stroke-width="1"/>
<line x1="337.48" y1="355.3" x2="337.48" y2="358.3" stroke="#383838" stroke-width="1"/>
<line x1="375.12" y1="355.3" x2="375.12" y2="358.3" stroke="#383838" stroke-width="1"/>
<line x1="412.76" y1="355.3" x2="412.76" y2="358.3" stroke="#383838" stroke-width="1"/>
<text x="259.75" y="348.30" font-size="7.2" font-weight="bold" font-style="normal" fill="#000" stroke="#000" stroke-width="0.25" text-anchor="start" transform="rotate(90 259.75 348.30)">0</text>
<text x="297.39" y="348.30" font-size="7.2" font-weight="bold" font-style="normal" fill="#000" stroke="#000" stroke-width="0.25" text-anchor="start" transform="rotate(90 297.39 348.30)">1</text>
<text x="335.03" y="348.30" font-size="7.2" font-weight="bold" font-style="normal" fill="#000" stroke="#000" stroke-width="0.25" text-anchor="start" transform="rotate(90 335.03 348.30)">2</text>
<text x="372.67" y="348.30" font-size="7.2" font-weight="bold" font-style="normal" fill="#000" stroke="#000" stroke-width="0.25" text-anchor="start" transform="rotate(90 372.67 348.30)">3</text>
<text x="410.31" y="348.30" font-size="7.2" font-weight="bold" font-style="normal" fill="#000" stroke="#000" stroke-width="0.25" text-anchor="start" transform="rotate(90 410.31 348.30)">4</text>
<text x="447.95" y="348.30" font-size="7.2" font-weight="bold" font-style="normal" fill="#000" stroke="#000" stroke-width="0.25" text-anchor="start" transform="rotate(90 447.95 348.30)">5</text>
<line x1="262.20" y1="613.8" x2="262.20" y2="610.8" stroke="#383838" stroke-width="1"/>
<text x="259.55" y="617.80" font-size="7.8" font-weight="bold" font-style="normal" fill="#000" stroke="#000" stroke-width="0.25" text-anchor="start" transform="rotate(90 259.55 617.80)">0.0</text>
<line x1="309.25" y1="613.8" x2="309.25" y2="610.8" stroke="#383838" stroke-width="1"/>
<text x="306.60" y="617.80" font-size="7.8" font-weight="bold" font-style="normal" fill="#000" stroke="#000" stroke-width="0.25" text-anchor="start" transform="rotate(90 306.60 617.80)">0.2</text>
<line x1="356.30" y1="613.8" x2="356.30" y2="610.8" stroke="#383838" stroke-width="1"/>
<text x="353.65" y="617.80" font-size="7.8" font-weight="bold" font-style="normal" fill="#000" stroke="#000" stroke-width="0.25" text-anchor="start" transform="rotate(90 353.65 617.80)">0.4</text>
<line x1="403.35" y1="613.8" x2="403.35" y2="610.8" stroke="#383838" stroke-width="1"/>
<text x="400.70" y="617.80" font-size="7.8" font-weight="bold" font-style="normal" fill="#000" stroke="#000" stroke-width="0.25" text-anchor="start" transform="rotate(90 400.70 617.80)">0.6</text>
<line x1="450.40" y1="613.8" x2="450.40" y2="610.8" stroke="#383838" stroke-width="1"/>
<text x="447.75" y="617.80" font-size="7.8" font-weight="bold" font-style="normal" fill="#000" stroke="#000" stroke-width="0.25" text-anchor="start" transform="rotate(90 447.75 617.80)">0.8</text>
<line x1="285.72" y1="613.8" x2="285.72" y2="611.8" stroke="#383838" stroke-width="1"/>
<line x1="332.77" y1="613.8" x2="332.77" y2="611.8" stroke="#383838" stroke-width="1"/>
<line x1="379.82" y1="613.8" x2="379.82" y2="611.8" stroke="#383838" stroke-width="1"/>
<line x1="426.88" y1="613.8" x2="426.88" y2="611.8" stroke="#383838" stroke-width="1"/>
<text x="340.50" y="342.00" font-size="8.2" font-weight="bold" font-style="normal" fill="#000" stroke="#000" stroke-width="0.25" text-anchor="start">OD</text>
<text x="352.80" y="344.70" font-size="5.4" font-weight="bold" font-style="normal" fill="#000" stroke="#000" stroke-width="0.25" text-anchor="start">600</text>
<text x="320.20" y="637.70" font-size="8.5" font-weight="bold" font-style="normal" fill="#000" stroke="#000" stroke-width="0.25" text-anchor="start" textLength="64.30" lengthAdjust="spacingAndGlyphs">L-lysine titer (g/L)</text>
<text x="280.90" y="654.90" font-size="8.4" font-weight="bold" font-style="normal" fill="#000" stroke="#000" stroke-width="0.25" text-anchor="start" textLength="139.90" lengthAdjust="spacingAndGlyphs">L-lysine specific productivity (g lysine/g</text>
<text x="422.60" y="659.60" font-size="5.6" font-weight="bold" font-style="normal" fill="#000" stroke="#000" stroke-width="0.25" text-anchor="start" textLength="10.80" lengthAdjust="spacingAndGlyphs">DCW</text>
<text x="434.00" y="654.90" font-size="8.4" font-weight="bold" font-style="normal" fill="#000" stroke="#000" stroke-width="0.25" text-anchor="start">)</text>
<rect x="262.6" y="701.70" width="163.00" height="17.50" fill="#c4c4c4" stroke="#5a5a5a" stroke-width="1"/>
<path d="M420.9 710.45 H431.1 M420.9 708.35 V712.55 M431.1 708.35 V712.55" stroke="#5a5a5a" stroke-width="0.75" fill="none"/>
<rect x="262.6" y="719.20" width="0.60" height="17.50" fill="url(#hf)" stroke="#5a5a5a" stroke-width="1"/>
<rect x="262.6" y="736.70" width="0.60" height="17.50" fill="#fff" stroke="#888" stroke-width="1"/>
<rect x="262.6" y="767.50" width="153.70" height="17.50" fill="#c4c4c4" stroke="#5a5a5a" stroke-width="1"/>
<path d="M404.4 776.25 H428.5 M404.4 774.15 V778.35 M428.5 774.15 V778.35" stroke="#5a5a5a" stroke-width="0.75" fill="none"/>
<rect x="262.6" y="785.00" width="64.00" height="17.50" fill="url(#hf)" stroke="#5a5a5a" stroke-width="1"/>
<path d="M322.2 793.75 H330.3 M322.2 791.65 V795.85 M330.3 791.65 V795.85" stroke="#5a5a5a" stroke-width="0.75" fill="none"/>
<rect x="262.6" y="802.50" width="38.90" height="17.50" fill="#fff" stroke="#888" stroke-width="1"/>
<path d="M301.0 811.25 H302.0 M301.0 809.15 V813.35 M302.0 809.15 V813.35" stroke="#5a5a5a" stroke-width="0.75" fill="none"/>
<line x1="262.6" y1="760.92" x2="264.6" y2="760.92" stroke="#383838" stroke-width="1"/>
<rect x="262.6" y="833.30" width="131.10" height="17.50" fill="#c4c4c4" stroke="#5a5a5a" stroke-width="1"/>
<path d="M383.1 842.05 H404.0 M383.1 839.95 V844.15 M404.0 839.95 V844.15" stroke="#5a5a5a" stroke-width="0.75" fill="none"/>
<rect x="262.6" y="850.80" width="90.20" height="17.50" fill="url(#hf)" stroke="#5a5a5a" stroke-width="1"/>
<path d="M341.3 859.55 H364.6 M341.3 857.45 V861.65 M364.6 857.45 V861.65" stroke="#5a5a5a" stroke-width="0.75" fill="none"/>
<rect x="262.6" y="868.30" width="65.60" height="17.50" fill="#fff" stroke="#888" stroke-width="1"/>
<path d="M327.7 877.05 H328.7 M327.7 874.95 V879.15 M328.7 874.95 V879.15" stroke="#5a5a5a" stroke-width="0.75" fill="none"/>
<line x1="262.6" y1="826.72" x2="264.6" y2="826.72" stroke="#383838" stroke-width="1"/>
<rect x="262.6" y="899.10" width="103.70" height="17.50" fill="#c4c4c4" stroke="#5a5a5a" stroke-width="1"/>
<path d="M357.4 907.85 H374.7 M357.4 905.75 V909.95 M374.7 905.75 V909.95" stroke="#5a5a5a" stroke-width="0.75" fill="none"/>
<rect x="262.6" y="916.60" width="147.90" height="17.50" fill="url(#hf)" stroke="#5a5a5a" stroke-width="1"/>
<path d="M402.7 925.35 H417.2 M402.7 923.25 V927.45 M417.2 923.25 V927.45" stroke="#5a5a5a" stroke-width="0.75" fill="none"/>
<rect x="262.6" y="934.10" width="134.50" height="17.50" fill="#fff" stroke="#888" stroke-width="1"/>
<path d="M396.6 942.85 H397.6 M396.6 940.75 V944.95 M397.6 940.75 V944.95" stroke="#5a5a5a" stroke-width="0.75" fill="none"/>
<line x1="262.6" y1="892.52" x2="264.6" y2="892.52" stroke="#383838" stroke-width="1"/>
<rect x="262.6" y="695.3" width="189.09999999999997" height="262.20000000000005" fill="none" stroke="#383838" stroke-width="1.2"/>
<line x1="300.42" y1="695.3" x2="300.42" y2="698.3" stroke="#383838" stroke-width="1"/>
<line x1="338.24" y1="695.3" x2="338.24" y2="698.3" stroke="#383838" stroke-width="1"/>
<line x1="376.06" y1="695.3" x2="376.06" y2="698.3" stroke="#383838" stroke-width="1"/>
<line x1="413.88" y1="695.3" x2="413.88" y2="698.3" stroke="#383838" stroke-width="1"/>
<text x="259.95" y="688.10" font-size="7.8" font-weight="bold" font-style="normal" fill="#000" stroke="#000" stroke-width="0.25" text-anchor="start" transform="rotate(90 259.95 688.10)">0</text>
<text x="297.77" y="688.10" font-size="7.8" font-weight="bold" font-style="normal" fill="#000" stroke="#000" stroke-width="0.25" text-anchor="start" transform="rotate(90 297.77 688.10)">1</text>
<text x="335.59" y="688.10" font-size="7.8" font-weight="bold" font-style="normal" fill="#000" stroke="#000" stroke-width="0.25" text-anchor="start" transform="rotate(90 335.59 688.10)">2</text>
<text x="373.41" y="688.10" font-size="7.8" font-weight="bold" font-style="normal" fill="#000" stroke="#000" stroke-width="0.25" text-anchor="start" transform="rotate(90 373.41 688.10)">3</text>
<text x="411.23" y="688.10" font-size="7.8" font-weight="bold" font-style="normal" fill="#000" stroke="#000" stroke-width="0.25" text-anchor="start" transform="rotate(90 411.23 688.10)">4</text>
<text x="449.05" y="688.10" font-size="7.8" font-weight="bold" font-style="normal" fill="#000" stroke="#000" stroke-width="0.25" text-anchor="start" transform="rotate(90 449.05 688.10)">5</text>
<line x1="262.60" y1="957.5" x2="262.60" y2="954.5" stroke="#383838" stroke-width="1"/>
<text x="259.88" y="961.50" font-size="8" font-weight="bold" font-style="normal" fill="#000" stroke="#000" stroke-width="0.25" text-anchor="start" transform="rotate(90 259.88 961.50)">0.0</text>
<line x1="300.42" y1="957.5" x2="300.42" y2="954.5" stroke="#383838" stroke-width="1"/>
<text x="297.70" y="961.50" font-size="8" font-weight="bold" font-style="normal" fill="#000" stroke="#000" stroke-width="0.25" text-anchor="start" transform="rotate(90 297.70 961.50)">0.1</text>
<line x1="338.24" y1="957.5" x2="338.24" y2="954.5" stroke="#383838" stroke-width="1"/>
<text x="335.52" y="961.50" font-size="8" font-weight="bold" font-style="normal" fill="#000" stroke="#000" stroke-width="0.25" text-anchor="start" transform="rotate(90 335.52 961.50)">0.2</text>
<line x1="376.06" y1="957.5" x2="376.06" y2="954.5" stroke="#383838" stroke-width="1"/>
<text x="373.34" y="961.50" font-size="8" font-weight="bold" font-style="normal" fill="#000" stroke="#000" stroke-width="0.25" text-anchor="start" transform="rotate(90 373.34 961.50)">0.3</text>
<line x1="413.88" y1="957.5" x2="413.88" y2="954.5" stroke="#383838" stroke-width="1"/>
<text x="411.16" y="961.50" font-size="8" font-weight="bold" font-style="normal" fill="#000" stroke="#000" stroke-width="0.25" text-anchor="start" transform="rotate(90 411.16 961.50)">0.4</text>
<line x1="451.70" y1="957.5" x2="451.70" y2="954.5" stroke="#383838" stroke-width="1"/>
<text x="448.98" y="961.50" font-size="8" font-weight="bold" font-style="normal" fill="#000" stroke="#000" stroke-width="0.25" text-anchor="start" transform="rotate(90 448.98 961.50)">0.5</text>
<line x1="281.51" y1="957.5" x2="281.51" y2="955.5" stroke="#383838" stroke-width="1"/>
<line x1="319.33" y1="957.5" x2="319.33" y2="955.5" stroke="#383838" stroke-width="1"/>
<line x1="357.15" y1="957.5" x2="357.15" y2="955.5" stroke="#383838" stroke-width="1"/>
<line x1="394.97" y1="957.5" x2="394.97" y2="955.5" stroke="#383838" stroke-width="1"/>
<line x1="432.79" y1="957.5" x2="432.79" y2="955.5" stroke="#383838" stroke-width="1"/>
<text x="341.20" y="682.00" font-size="8.9" font-weight="bold" font-style="normal" fill="#000" stroke="#000" stroke-width="0.25" text-anchor="start">OD</text>
<text x="353.80" y="684.70" font-size="5.6" font-weight="bold" font-style="normal" fill="#000" stroke="#000" stroke-width="0.25" text-anchor="start">600</text>
<text x="314.40" y="980.70" font-size="8.8" font-weight="bold" font-style="normal" fill="#000" stroke="#000" stroke-width="0.25" text-anchor="start" textLength="93.50" lengthAdjust="spacingAndGlyphs">L-pipecolic acid titer (g/L)</text>
<line x1="262.6" y1="994.8" x2="451.7" y2="994.8" stroke="#383838" stroke-width="1.1"/>
<line x1="262.60" y1="994.8" x2="262.60" y2="991.8" stroke="#383838" stroke-width="1"/>
<text x="259.88" y="998.50" font-size="8" font-weight="bold" font-style="normal" fill="#000" stroke="#000" stroke-width="0.25" text-anchor="start" transform="rotate(90 259.88 998.50)">0.00</text>
<line x1="309.88" y1="994.8" x2="309.88" y2="991.8" stroke="#383838" stroke-width="1"/>
<text x="307.15" y="998.50" font-size="8" font-weight="bold" font-style="normal" fill="#000" stroke="#000" stroke-width="0.25" text-anchor="start" transform="rotate(90 307.15 998.50)">0.05</text>
<line x1="357.15" y1="994.8" x2="357.15" y2="991.8" stroke="#383838" stroke-width="1"/>
<text x="354.43" y="998.50" font-size="8" font-weight="bold" font-style="normal" fill="#000" stroke="#000" stroke-width="0.25" text-anchor="start" transform="rotate(90 354.43 998.50)">0.10</text>
<line x1="404.43" y1="994.8" x2="404.43" y2="991.8" stroke="#383838" stroke-width="1"/>
<text x="401.70" y="998.50" font-size="8" font-weight="bold" font-style="normal" fill="#000" stroke="#000" stroke-width="0.25" text-anchor="start" transform="rotate(90 401.70 998.50)">0.15</text>
<line x1="451.70" y1="994.8" x2="451.70" y2="991.8" stroke="#383838" stroke-width="1"/>
<text x="448.98" y="998.50" font-size="8" font-weight="bold" font-style="normal" fill="#000" stroke="#000" stroke-width="0.25" text-anchor="start" transform="rotate(90 448.98 998.50)">0.20</text>
<line x1="286.24" y1="994.8" x2="286.24" y2="992.8" stroke="#383838" stroke-width="1"/>
<line x1="333.51" y1="994.8" x2="333.51" y2="992.8" stroke="#383838" stroke-width="1"/>
<line x1="380.79" y1="994.8" x2="380.79" y2="992.8" stroke="#383838" stroke-width="1"/>
<line x1="428.06" y1="994.8" x2="428.06" y2="992.8" stroke="#383838" stroke-width="1"/>
<text x="265.60" y="1022.80" font-size="8.8" font-weight="bold" font-style="normal" fill="#000" stroke="#000" stroke-width="0.25" text-anchor="start" textLength="139.40" lengthAdjust="spacingAndGlyphs">L-pipecolic acid specific productivity (g</text>
<text x="409.90" y="1023.60" font-size="7.4" font-weight="bold" font-style="normal" fill="#000" stroke="#000" stroke-width="0.25" text-anchor="start" textLength="14.60" lengthAdjust="spacingAndGlyphs">L-PA</text>
<text x="428.30" y="1023.00" font-size="8.2" font-weight="bold" font-style="normal" fill="#000" stroke="#000" stroke-width="0.25" text-anchor="start" textLength="7.00" lengthAdjust="spacingAndGlyphs">/g</text>
<text x="436.70" y="1026.60" font-size="6.0" font-weight="bold" font-style="normal" fill="#000" stroke="#000" stroke-width="0.25" text-anchor="start" textLength="12.00" lengthAdjust="spacingAndGlyphs">DCW</text>
<text x="449.20" y="1022.80" font-size="8.6" font-weight="bold" font-style="normal" fill="#000" stroke="#000" stroke-width="0.25" text-anchor="start">)</text>
<rect x="441.5" y="833.5" width="6.6" height="17" fill="#c4c4c4" stroke="#5a5a5a" stroke-width="0.9"/>
<rect x="429.9" y="833.5" width="6.6" height="17" fill="url(#hf)" stroke="#5a5a5a" stroke-width="0.9"/>
<rect x="420.5" y="833.5" width="6.6" height="17" fill="#fff" stroke="#5a5a5a" stroke-width="0.9"/>
<text x="442.00" y="852.50" font-size="7.5" font-weight="bold" font-style="normal" fill="#000" stroke="#000" stroke-width="0.25" text-anchor="start" transform="rotate(90 442.00 852.50)" textLength="11.00" lengthAdjust="spacingAndGlyphs">OD</text>
<text x="440.00" y="864.00" font-size="4.5" font-weight="bold" font-style="normal" fill="#000" stroke="#000" stroke-width="0.25" text-anchor="start" transform="rotate(90 440.00 864.00)">600</text>
<text x="430.50" y="852.50" font-size="7.5" font-weight="bold" font-style="normal" fill="#000" stroke="#000" stroke-width="0.25" text-anchor="start" transform="rotate(90 430.50 852.50)" textLength="77.50" lengthAdjust="spacingAndGlyphs">L-pipecolic acid titer (g/L)</text>
<text x="420.00" y="852.50" font-size="7.5" font-weight="bold" font-style="normal" fill="#000" stroke="#000" stroke-width="0.25" text-anchor="start" transform="rotate(90 420.00 852.50)" textLength="81.00" lengthAdjust="spacingAndGlyphs">Specific productivity (g PA/g</text>
<text x="418.20" y="935.20" font-size="4.6" font-weight="bold" font-style="normal" fill="#000" stroke="#000" stroke-width="0.25" text-anchor="start" transform="rotate(90 418.20 935.20)" textLength="8.50" lengthAdjust="spacingAndGlyphs">DCW</text>
<text x="420.00" y="945.70" font-size="7.5" font-weight="bold" font-style="normal" fill="#000" stroke="#000" stroke-width="0.25" text-anchor="start" transform="rotate(90 420.00 945.70)">)</text>
</svg></body></html>
